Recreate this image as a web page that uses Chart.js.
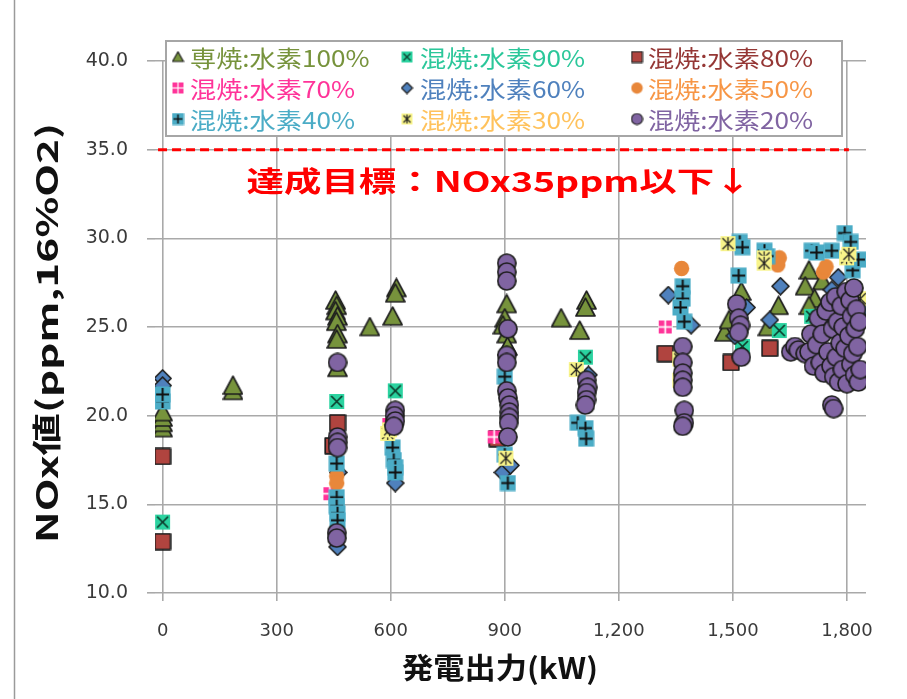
<!DOCTYPE html>
<html>
<head>
<meta charset="utf-8">
<script src="https://cdn.jsdelivr.net/npm/chart.js@4.4.1/dist/chart.umd.min.js"></script>
<style>
  html, body { margin: 0; padding: 0; background: #fff; }
  #wrap { width: 907px; height: 699px; position: relative; }
</style>
</head>
<body>
<div id="wrap"><canvas id="nox" width="907" height="699"></canvas></div>
<script>
// ====== DATA ======
const xTicks = [0, 300, 600, 900, 1200, 1500, 1800];
const yTicks = [10, 15, 20, 25, 30, 35, 40];
const targetNOx = 35;
const targetText = '達成目標：NOx35ppm以下↓';

const seriesLabels = ['専焼:水素100%', '混焼:水素90%', '混焼:水素80%',
                      '混焼:水素70%', '混焼:水素60%', '混焼:水素50%',
                      '混焼:水素40%', '混焼:水素30%', '混焼:水素20%'];

// [kW, NOx]
const h100 = [[0,19.3],[0,19.6],[0,19.9],[0,20.2],[185,21.4],[185,21.7],
  [455,26.5],[458,26.2],[455,25.9],[460,25.6],[457,25.3],[460,24.6],[458,24.3],[460,22.7],
  [545,25.0],[615,27.2],[612,26.9],[605,25.6],
  [905,26.3],[900,25.5],[895,25.1],[905,24.6],[907,23.9],
  [1048,25.5],[1115,26.5],[1112,26.1],[1097,24.8],
  [1522,27.0],[1478,24.7],[1490,25.4],[1620,26.2],[1592,25.0],
  [1700,28.2],[1735,27.6],[1690,27.3],[1715,26.6],[1700,26.2],[1730,25.8]];
const h90 = [[0,14.0],[458,20.8],[612,21.4],[1112,23.3],[1525,23.9],[1622,24.8],[1707,25.6]];
const h80 = [[0,17.7],[0,12.9],[460,19.6],[448,18.3],[880,18.7],[1322,23.5],[1495,23.0],[1597,23.8]];
const h70 = [[440,15.6],[595,19.5],[872,18.8],[1322,25.0]];
const h60 = [[0,22.1],[0,21.7],[462,16.8],[460,12.6],[612,16.2],[895,16.8],[915,17.2],
  [1120,22.3],[1330,26.8],[1390,25.1],[1536,26.1],[1505,24.5],[1625,27.3],[1597,25.4],
  [1777,27.8],[1760,27.1],[1840,26.0]];
const h50 = [[458,16.6],[458,16.2],[1365,28.3],[1622,28.9],[1618,28.5],[1738,28.1],[1745,28.4]];
const h40 = [[0,20.8],[0,21.2],[458,17.3],[458,15.4],[458,14.9],[460,14.5],[460,14.1],
  [605,18.2],[608,17.5],[612,17.1],[612,16.8],[908,16.2],[900,17.8],[900,22.2],
  [1092,19.6],[1112,19.3],[1114,18.7],[1368,27.3],[1368,26.6],[1362,26.1],[1372,25.3],
  [1518,29.8],[1525,29.5],[1515,27.9],[1583,29.3],[1590,29.0],
  [1707,29.3],[1720,29.2],[1760,29.3],[1794,30.3],[1810,29.8],[1815,28.2],[1830,28.8]];
const h30 = [[592,19.0],[597,19.2],[903,17.6],[1088,22.6],[1360,23.2],[1360,22.0],
  [1487,29.7],[1582,28.9],[1582,28.6],[1799,28.9],[1805,29.1],[1835,26.6]];
const h20 = [[460,23.0],[460,18.8],[460,18.5],[460,18.2],[458,13.4],[458,13.1],
  [612,20.3],[610,20.0],[612,19.7],[608,19.4],
  [905,28.6],[905,28.1],[905,27.6],[908,24.9],[905,23.4],[905,23.0],[905,21.4],[908,21.0],
  [912,20.6],[912,20.2],[912,19.9],[910,19.6],[908,18.8],
  [1115,22.0],[1118,21.6],[1115,21.3],[1115,20.9],[1112,20.6],
  [1368,23.9],[1368,23.0],[1368,22.4],[1368,22.0],[1368,21.6],[1372,20.3],[1372,19.6],[1368,19.4],
  [1510,26.3],[1515,25.5],[1520,25.1],[1515,24.7],[1522,23.3],
  [1652,23.6],[1663,23.9],[1672,23.7],[1690,23.5],[1700,23.6],[1705,24.6],[1712,22.8],
  [1720,24.0],[1725,25.5],[1730,23.0],[1735,24.6],[1740,22.4],[1745,25.9],[1750,23.6],
  [1755,26.4],[1758,22.8],[1762,24.9],[1765,22.2],[1770,26.7],[1772,23.3],[1775,25.3],
  [1778,21.9],[1782,24.1],[1785,26.2],[1788,22.6],[1790,25.0],[1795,23.8],[1798,27.0],
  [1800,21.8],[1805,24.5],[1808,26.5],[1810,22.9],[1812,25.6],[1815,23.5],[1818,27.2],
  [1820,22.3],[1822,24.9],[1825,26.0],[1828,23.9],[1830,21.9],[1832,25.3],[1835,22.6],
  [1760,20.6],[1765,20.4]];

const allSeries = [h100, h90, h80, h70, h60, h50, h40, h30, h20];

// ====== STYLES ======
const markerKinds = ['tri', 'xsq', 'sq', 'pink', 'dia', 'dot', 'plus', 'star', 'circ'];
const dataSizes   = [21, 17, 18, 15, 19, 17, 17, 17, 20];
const textColors  = ['#77933C', '#2BC79A', '#953735', '#FF3399', '#4F81BD',
                     '#F79646', '#4BACC6', '#FFC25C', '#8064A2'];

function makeMarker(kind, s) {
  const c = document.createElement('canvas');
  c.width = c.height = s;
  const g = c.getContext('2d');
  const m = s / 2;
  const lw = s > 13 ? 1.7 : 1.2;
  g.lineJoin = 'round';
  g.lineWidth = lw;
  g.strokeStyle = '#1e1e1e';
  const line = (a, b, cc, d) => { g.beginPath(); g.moveTo(a, b); g.lineTo(cc, d); g.stroke(); };
  if (kind === 'tri') {
    g.beginPath(); g.moveTo(m, 1.2); g.lineTo(s - 1, s - 2); g.lineTo(1, s - 2); g.closePath();
    g.fillStyle = '#77933C'; g.fill(); g.stroke();
  } else if (kind === 'xsq') {
    g.fillStyle = '#2BD3A0'; g.fillRect(1, 1, s - 2, s - 2);
    g.strokeStyle = '#0d3b2c';
    line(3, 3, s - 3, s - 3); line(s - 3, 3, 3, s - 3);
  } else if (kind === 'sq') {
    g.fillStyle = '#B0443F'; g.fillRect(1.2, 1.2, s - 2.4, s - 2.4); g.strokeRect(1.2, 1.2, s - 2.4, s - 2.4);
  } else if (kind === 'pink') {
    g.fillStyle = '#FF3399'; g.fillRect(1, 1, s - 2, s - 2);
    g.strokeStyle = '#ffffff'; line(m, 0, m, s); line(0, m, s, m);
  } else if (kind === 'dia') {
    g.beginPath(); g.moveTo(m, 1); g.lineTo(s - 1, m); g.lineTo(m, s - 1); g.lineTo(1, m); g.closePath();
    g.fillStyle = '#4F81BD'; g.fill(); g.stroke();
  } else if (kind === 'dot') {
    g.beginPath(); g.arc(m, m, m - 0.8, 0, Math.PI * 2);
    g.fillStyle = '#E8873A'; g.fill();
  } else if (kind === 'plus') {
    g.fillStyle = '#4BACC6'; g.fillRect(0.5, 0.5, s - 1, s - 1);
    g.lineWidth = s > 13 ? 2 : 1.5; g.strokeStyle = '#111';
    line(m, 2, m, s - 2); line(2, m, s - 2, m);
  } else if (kind === 'star') {
    g.fillStyle = '#F8F48A'; g.fillRect(1, 1, s - 2, s - 2);
    g.strokeStyle = '#222'; g.lineWidth = 1.2;
    line(m, 2, m, s - 2); line(3, 3, s - 3, s - 3); line(s - 3, 3, 3, s - 3);
  } else if (kind === 'circ') {
    g.beginPath(); g.arc(m, m, m - 1, 0, Math.PI * 2);
    g.fillStyle = '#8064A2'; g.fill(); g.stroke();
  }
  return c;
}

// draw text squeezed/stretched to a given width
function fitText(ctx, text, x, y, w, align) {
  const nat = ctx.measureText(text).width;
  const k = w / nat;
  ctx.save();
  ctx.translate(x, y);
  ctx.scale(k, 1);
  ctx.textAlign = 'left';
  const off = align === 'center' ? -nat / 2 : 0;
  ctx.fillText(text, off, 0);
  ctx.restore();
}

// ====== EXTRA DRAWING: frame, target line, legend, axis titles ======
const extras = {
  id: 'extras',
  beforeDraw(chart) {
    const ctx = chart.ctx;
    ctx.save();
    ctx.strokeStyle = '#9a9a9a';
    ctx.lineWidth = 1.5;
    ctx.beginPath(); ctx.moveTo(14.5, 0); ctx.lineTo(14.5, chart.height); ctx.stroke();
    ctx.restore();
  },
  afterDraw(chart) {
    const ctx = chart.ctx;
    const xs = chart.scales.x, ys = chart.scales.y;
    const yT = ys.getPixelForValue(targetNOx);
    ctx.save();
    // target line
    ctx.strokeStyle = '#FF0000';
    ctx.lineWidth = 3;
    ctx.setLineDash([9, 5]);
    ctx.beginPath();
    ctx.moveTo(xs.getPixelForValue(-12), yT);
    ctx.lineTo(xs.getPixelForValue(1805), yT);
    ctx.stroke();
    ctx.setLineDash([]);
    ctx.fillStyle = '#FF0000';
    ctx.font = 'bold 28px "Noto Sans CJK JP"';
    ctx.textBaseline = 'middle';
    fitText(ctx, targetText, xs.getPixelForValue(885), yT + 32, 505, 'center');

    // legend
    const L = 166, T = 41, R = 842, B = 136;
    ctx.fillStyle = '#fff';
    ctx.fillRect(L, T, R - L, B - T);
    ctx.strokeStyle = '#a6a6a6';
    ctx.lineWidth = 2;
    ctx.strokeRect(L, T, R - L, B - T);
    const colM = [178, 407, 637], colT = [190, 420, 648], rowY = [57, 88, 119];
    ctx.font = '23px "Noto Sans CJK JP"';
    const k = 165 / ctx.measureText(seriesLabels[1]).width;
    seriesLabels.forEach((lab, i) => {
      const r = Math.floor(i / 3), c = i % 3;
      const mk = legendMarkers[i];
      ctx.drawImage(mk, colM[c] - mk.width / 2, rowY[r] - mk.height / 2);
      ctx.fillStyle = textColors[i];
      fitText(ctx, lab, colT[c], rowY[r] + 1, ctx.measureText(lab).width * k, 'left');
    });

    // axis titles
    ctx.fillStyle = '#111';
    ctx.font = 'bold 29px "Noto Sans CJK JP"';
    fitText(ctx, '発電出力(kW)', 500, 668, 196, 'center');
    ctx.save();
    ctx.translate(47, 333);
    ctx.rotate(-Math.PI / 2);
    fitText(ctx, 'NOx値(ppm,16%O2)', 0, 0, 420, 'center');
    ctx.restore();
    ctx.restore();
  }
};

const legendMarkers = markerKinds.map(k => makeMarker(k, 13));

const datasets = allSeries.map((pts, i) => ({
  label: seriesLabels[i],
  data: pts.map(p => ({ x: p[0], y: p[1] })),
  pointStyle: makeMarker(markerKinds[i], dataSizes[i]),
  pointRadius: dataSizes[i] / 2,
  pointHoverRadius: dataSizes[i] / 2,
  order: 9 - i
}));

const gridStyle = { color: '#a9a9a9', lineWidth: 1.6, tickLength: 8 };

new Chart(document.getElementById('nox'), {
  type: 'scatter',
  data: { datasets },
  options: {
    responsive: false,
    animation: false,
    layout: { padding: { left: 0, top: 61, right: 41, bottom: 0 } },
    plugins: { legend: { display: false }, tooltip: { enabled: false } },
    scales: {
      x: {
        type: 'linear', min: -20, max: 1850,
        afterBuildTicks: s => { s.ticks = xTicks.map(v => ({ value: v })); },
        afterFit: s => { s.height = 106; },
        grid: gridStyle,
        border: { display: false },
        ticks: {
          color: '#3a3a3a', padding: 20, maxRotation: 0,
          font: { family: 'DejaVu Sans', size: 18 },
          callback: v => v.toLocaleString('en-US')
        }
      },
      y: {
        type: 'linear', min: 10, max: 40,
        afterBuildTicks: s => { s.ticks = yTicks.map(v => ({ value: v })); },
        afterFit: s => { s.width = 155; },
        grid: gridStyle,
        border: { display: false },
        ticks: {
          color: '#3a3a3a', padding: 19,
          font: { family: 'DejaVu Sans', size: 19 },
          callback: v => v.toFixed(1)
        }
      }
    }
  },
  plugins: [extras]
});
</script>
</body>
</html>
